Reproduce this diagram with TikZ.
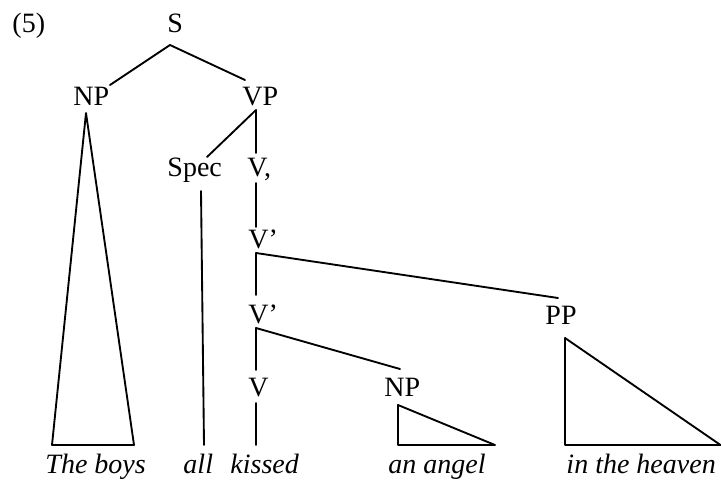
\documentclass[tikz,border=0pt]{standalone}
\usepackage{fontspec}
\setmainfont{Liberation Serif}
\usetikzlibrary{positioning}

\tikzset{
  cat/.style={anchor=base west, inner sep=0pt},
  word/.style={cat, font=\fontsize{12}{14}\selectfont\itshape},
  branch/.style={line width=0.8pt, line cap=round, line join=round}
}

\begin{document}
\begin{tikzpicture}[x=0.4286pt, y=-0.4286pt, font=\fontsize{12}{14}\selectfont]

\useasboundingbox (0,0) rectangle (721,480);

% ============================================================
% Category labels (pixel grid, y down)
% ============================================================
\node[cat] (ex)   at (12,33)   {(5)};
\node[cat] (S)    at (167,33)  {S};
\node[cat] (NP)   at (73,106)  {NP};
\node[cat] (VP)   at (242,106) {VP};
\node[cat] (Spec) at (167,177) {Spec};
\node[cat] (Vc)   at (247,177) {V,};
\node[cat] (Vb)   at (248,249) {V’};
\node[cat] (Va)   at (248,323) {V’};
\node[cat] (PP)   at (545,324) {PP};
\node[cat] (V)    at (248,396) {V};
\node[cat] (NPo)  at (384,396) {NP};

% ============================================================
% Words
% ============================================================
\node[word] (boys)   at (45,473)  {The boys};
\node[word] (all)    at (183,473) {all};
\node[word] (kissed) at (230,473) {kissed};
\node[word] (angel)  at (388,473) {an angel};
\node[word] (heaven) at (566,473) {in the heaven};

% ============================================================
% Attachment points
% ============================================================
\coordinate (S-dn)    at (170,45);
\coordinate (NP-up)   at (110,85);
\coordinate (VP-up)   at (245,80);
\coordinate (VP-dn)   at (256,110);
\coordinate (Spec-up) at (207,157);
\coordinate (Spec-dn) at (201,191);
\coordinate (Vc-up)   at (256,153);
\coordinate (Vc-dn)   at (256,183);
\coordinate (Vb-up)   at (256,227);
\coordinate (Vb-dn)   at (256,253);
\coordinate (Va-up)   at (256,295);
\coordinate (Va-dn)   at (256,328);
\coordinate (PP-up)   at (558,298);
\coordinate (V-up)    at (256,370);
\coordinate (V-dn)    at (256,403);
\coordinate (NPo-up)  at (400,369);

% ============================================================
% Branches
% ============================================================
\draw[branch] (NP-up) -- (S-dn) -- (VP-up);
\draw[branch] (Spec-up) -- (VP-dn) -- (Vc-up);
\draw[branch] (Vc-dn) -- (Vb-up);
\draw[branch] (Va-up) -- (Vb-dn) -- (PP-up);
\draw[branch] (V-up) -- (Va-dn) -- (NPo-up);
\draw[branch] (Spec-dn) -- (204,445);
\draw[branch] (V-dn) -- (256,445);

% ============================================================
% Triangles
% ============================================================
\draw[branch] (86,113) -- (52,445) -- (134,445) -- cycle;
\draw[branch] (398,405) -- (398,445) -- (495,445) -- cycle;
\draw[branch] (565,338) -- (565,445) -- (720.5,445) -- cycle;

\end{tikzpicture}
\end{document}
